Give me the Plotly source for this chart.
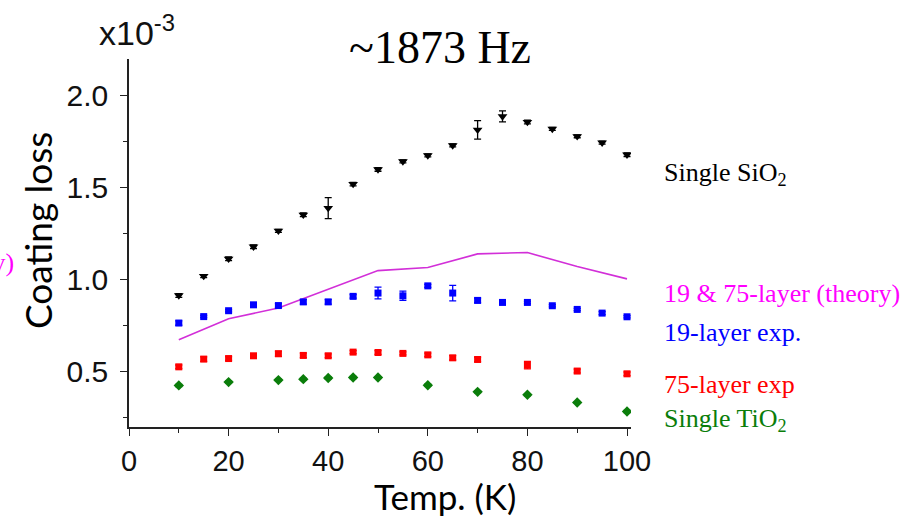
import plotly.graph_objects as go

# ---------------- data (loss values in units of 1e-3) ----------------
temp_sio2 = [10, 15, 20, 25, 30, 35, 40, 45, 50, 55, 60, 65, 70, 75, 80, 85, 90, 95, 100]
loss_sio2 = [0.915, 1.02, 1.114, 1.18, 1.266, 1.353, 1.39, 1.52, 1.60, 1.643, 1.676, 1.73,
             1.815, 1.888, 1.857, 1.82, 1.78, 1.745, 1.68]
err_sio2 = [0.01, 0.008, 0.01, 0.01, 0.008, 0.01, 0.057, 0.01, 0.01, 0.008, 0.008, 0.008,
            0.05, 0.03, 0.01, 0.008, 0.008, 0.008, 0.01]

temp_19 = [10, 15, 20, 25, 30, 35, 40, 45, 50, 55, 60, 65, 70, 75, 80, 85, 90, 95, 100]
loss_19 = [0.765, 0.80, 0.832, 0.864, 0.86, 0.88, 0.88, 0.91, 0.928, 0.913, 0.967, 0.928,
           0.888, 0.877, 0.877, 0.859, 0.839, 0.819, 0.799]
err_19 = [0.012, 0.006, 0.006, 0.012, 0.01, 0.012, 0.012, 0.01, 0.032, 0.025, 0.008, 0.042,
          0.012, 0.008, 0.006, 0.006, 0.006, 0.008, 0.006]

temp_75 = [10, 15, 20, 25, 30, 35, 40, 45, 50, 55, 60, 65, 70, 80, 90, 100]
loss_75 = [0.527, 0.569, 0.572, 0.587, 0.598, 0.589, 0.587, 0.607, 0.605, 0.60, 0.592, 0.576,
           0.567, 0.536, 0.504, 0.489]
err_75 = [0.01, 0.012, 0.01, 0.008, 0.014, 0.012, 0.01, 0.008, 0.01, 0.008, 0.01, 0.012,
          0.012, 0.02, 0.01, 0.01]

temp_tio2 = [10, 20, 30, 35, 40, 45, 50, 60, 70, 80, 90, 100]
loss_tio2 = [0.426, 0.444, 0.455, 0.46, 0.466, 0.469, 0.469, 0.427, 0.391, 0.375, 0.333, 0.284]
err_tio2 = [0.006, 0.006, 0.005, 0.005, 0.006, 0.006, 0.005, 0.006, 0.006, 0.006, 0.005, 0.006]

temp_theory = [10, 20, 30, 40, 50, 60, 70, 80, 90, 100]
loss_theory = [0.674, 0.788, 0.847, 0.948, 1.05, 1.067, 1.141, 1.148, 1.072, 1.005]

x_ticks = [0, 20, 40, 60, 80, 100]
y_ticks = [0.5, 1.0, 1.5, 2.0]

title_text = "~1873 Hz"
x_title = "Temp. (K)"
y_title = "Coating loss"
label_sio2 = "Single SiO<sub>2</sub>"
label_theory = "19 &amp; 75-layer (theory)"
label_19 = "19-layer exp."
label_75 = "75-layer exp"
label_tio2 = "Single TiO<sub>2</sub>"

# ---------------- layout geometry ----------------
W, H = 912, 517
L, R, T, B = 129, 281, 59, 90
PW, PH = W - L - R, H - T - B


def px(x):
    return (x - L) / PW


def py(y):
    return (H - B - y) / PH


BLACK, BLUE, RED, GREEN = "#000000", "#0000ff", "#ff0000", "#0a7d0a"
MAG_LINE, MAG_TEXT = "#d22fd8", "#ff00ff"

fig = go.Figure()


def err(arr, color):
    return dict(type="data", array=arr, visible=True, color=color, thickness=1.3, width=3.5)


fig.add_trace(go.Scatter(x=temp_theory, y=loss_theory, mode="lines",
                         line=dict(color=MAG_LINE, width=1.6), showlegend=False))
fig.add_trace(go.Scatter(x=temp_sio2, y=loss_sio2, mode="markers", error_y=err(err_sio2, BLACK),
                         marker=dict(symbol="triangle-down", size=8.5, color=BLACK), showlegend=False))
fig.add_trace(go.Scatter(x=temp_19, y=loss_19, mode="markers", error_y=err(err_19, BLUE),
                         marker=dict(symbol="square", size=7, color=BLUE), showlegend=False))
fig.add_trace(go.Scatter(x=temp_75, y=loss_75, mode="markers", error_y=err(err_75, RED),
                         marker=dict(symbol="square", size=7, color=RED), showlegend=False))
fig.add_trace(go.Scatter(x=temp_tio2, y=loss_tio2, mode="markers", error_y=err(err_tio2, GREEN),
                         marker=dict(symbol="diamond", size=8, color=GREEN), showlegend=False))

serif = "Liberation Serif, Times New Roman, serif"
sans = "Liberation Sans, Arial, sans-serif"
calib = "Lato, Noto Sans, sans-serif"

ann = []
# title
ann.append(dict(text=title_text, x=px(440), y=py(47), xanchor="center", yanchor="middle",
                font=dict(family=serif, size=46, color="black")))
# x10^-3
ann.append(dict(text="x10<sup>-3</sup>", x=px(97), y=py(30), xanchor="left", yanchor="middle",
                font=dict(family=sans, size=34, color="#111111")))
# axis titles
ann.append(dict(text=x_title, x=px(445), y=py(496), xanchor="center", yanchor="middle",
                font=dict(family=calib, size=35, color="black")))
ann.append(dict(text=y_title, x=px(37), y=py(231), xanchor="center", yanchor="middle",
                textangle=-90, font=dict(family=calib, size=37, color="black")))
# series labels
labels = [(label_sio2, 174, BLACK), (label_theory, 293, MAG_TEXT), (label_19, 332, BLUE),
          (label_75, 384, RED), (label_tio2, 420, GREEN)]
for txt, yc, col in labels:
    ann.append(dict(text=txt, x=px(662), y=py(yc), xanchor="left", yanchor="middle",
                    font=dict(family=serif, size=26, color=col)))
# clipped label from neighbouring panel at the left edge
ann.append(dict(text=label_theory, x=px(16), y=py(262), xanchor="right", yanchor="middle",
                font=dict(family=serif, size=26, color=MAG_TEXT)))
for a in ann:
    a.update(xref="paper", yref="paper", showarrow=False)

fig.update_layout(
    width=W, height=H,
    margin=dict(l=L, r=R, t=T, b=B, pad=0),
    paper_bgcolor="white", plot_bgcolor="white",
    annotations=ann,
    xaxis=dict(range=[0, 100.8], tickvals=x_ticks, ticks="outside", ticklen=7, tickwidth=1.3,
               tickcolor="#222", showline=True, linecolor="#222", linewidth=1.5,
               showgrid=False, zeroline=False,
               minor=dict(dtick=10, ticks="outside", ticklen=4, tickwidth=1.2, tickcolor="#222"),
               tickfont=dict(family=sans, size=29, color="#111")),
    yaxis=dict(range=[0.2, 2.2], tickvals=y_ticks, tickformat=".1f", ticks="outside", ticklen=7,
               tickwidth=1.3, tickcolor="#222", showline=True, linecolor="#222", linewidth=1.5,
               showgrid=False, zeroline=False,
               minor=dict(dtick=0.25, ticks="outside", ticklen=4, tickwidth=1.2, tickcolor="#222"),
               tickfont=dict(family=sans, size=30, color="#111"), ticklabelstandoff=6),
)

fig.write_html("out.html")
